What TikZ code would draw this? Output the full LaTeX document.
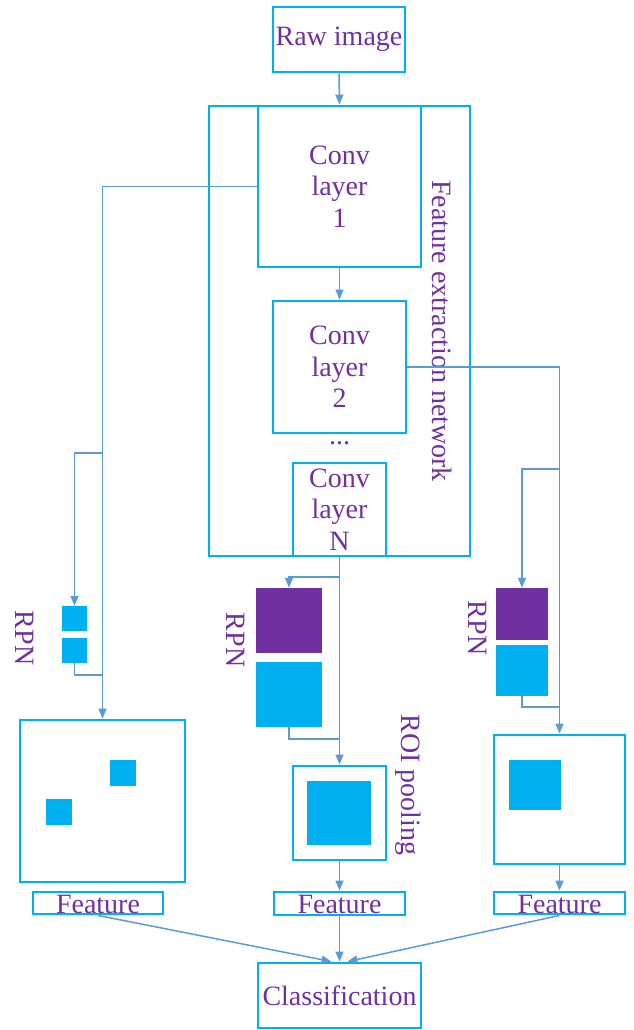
\documentclass[tikz,border=0pt]{standalone}
\usepackage{fontspec}
\setmainfont{Liberation Serif}
\usetikzlibrary{arrows.meta}
\definecolor{boxcyan}{HTML}{00B0F0}
\definecolor{txtpurple}{HTML}{7030A0}
\definecolor{linkblue}{HTML}{5B9BD5}
\tikzset{
  box/.style={draw=boxcyan, line width=2.9pt, rectangle, inner sep=0pt,
    text=txtpurple, align=center, font=\fontsize{28}{31.5}\selectfont},
  cyanblock/.style={fill=boxcyan, draw=none, rectangle, inner sep=0pt},
  purpleblock/.style={fill=txtpurple, draw=none, rectangle, inner sep=0pt},
  lbl/.style={text=txtpurple, inner sep=0pt, font=\fontsize{28}{31.5}\selectfont},
  vlbl/.style={lbl, rotate=-90},
  link/.style={draw=linkblue, line width=1.5pt},
  arrowlink/.style={link, -{Triangle[length=10pt,width=8pt]}},
}
\begin{document}
\begin{tikzpicture}[x=1pt, y=-1pt]
\useasboundingbox (0,0) rectangle (633,1030);

% feature extraction network
\node[box, minimum width=132pt, minimum height=65pt] (raw) at (339,39.5) {Raw image};
\node[box, minimum width=261pt, minimum height=450pt] (fen) at (339.5,331) {};
\node[box, minimum width=163pt, minimum height=161pt, fill=white] (conv1) at (339.5,186.5) {Conv\\layer\\1};
\node[box, minimum width=133pt, minimum height=132pt] (conv2) at (339.5,367) {Conv\\layer\\2};
\node[lbl] (dots) at (339.5,443) {...};
\node[box, minimum width=93pt, minimum height=93pt] (convN) at (339.5,509.5) {Conv\\layer\\N};
\node[vlbl] (fenlbl) at (442,331) {Feature extraction network};

% left branch
\node[cyanblock, minimum width=25pt, minimum height=25pt] (ls1) at (74.5,618.5) {};
\node[cyanblock, minimum width=25pt, minimum height=25pt] (ls2) at (74.5,650.5) {};
\node[vlbl] (lrpn) at (25,638) {RPN};
\node[box, minimum width=165pt, minimum height=162pt] (lbig) at (102.5,801) {};
\node[cyanblock, minimum width=26pt, minimum height=26pt] (lin1) at (123,773) {};
\node[cyanblock, minimum width=26pt, minimum height=26pt] (lin2) at (59,812) {};
\node[box, minimum width=130pt, minimum height=22pt] (lf) at (98,903) {};
\node[lbl] (lft) at (98,904) {Feature};

% middle branch
\node[purpleblock, minimum width=66pt, minimum height=65pt] (mp) at (289,620.5) {};
\node[cyanblock, minimum width=66pt, minimum height=65pt] (mc) at (289,694.5) {};
\node[vlbl] (mrpn) at (236,640) {RPN};
\node[box, minimum width=93pt, minimum height=94pt] (roi) at (339.5,813) {};
\node[cyanblock, minimum width=64pt, minimum height=64pt] (roiin) at (339,813) {};
\node[vlbl] (roilbl) at (408,785) {ROI pooling};
\node[box, minimum width=131pt, minimum height=23pt] (mf) at (339.5,903.5) {};
\node[lbl] (mft) at (339.5,904.5) {Feature};

% right branch
\node[purpleblock, minimum width=52pt, minimum height=52pt] (rp) at (522,614) {};
\node[cyanblock, minimum width=52pt, minimum height=51pt] (rc) at (522,670.5) {};
\node[vlbl] (rrpn) at (478,628) {RPN};
\node[box, minimum width=131pt, minimum height=129pt] (rbig) at (559.5,799.5) {};
\node[cyanblock, minimum width=52pt, minimum height=50pt] (rin) at (535,785) {};
\node[box, minimum width=131pt, minimum height=22pt] (rf) at (559.5,903) {};
\node[lbl] (rft) at (559.5,904) {Feature};

% output
\node[box, minimum width=163pt, minimum height=65pt] (cls) at (339.5,995.5) {Classification};

% junction points
\coordinate (lj1) at (102.5,453);
\coordinate (lj2) at (102.5,675);
\coordinate (mj1) at (339.5,577);
\coordinate (mj2) at (339.5,739);
\coordinate (rj1) at (559.5,469);
\coordinate (rj2) at (559.5,707);

% connectors
\draw[arrowlink] (raw.south) -- (fen.north);
\draw[arrowlink] (conv1.south) -- (conv2.north);

\draw[arrowlink] (conv1.west) -| (lbig.north);
\draw[arrowlink] (lj1) -| (ls1.north);
\draw[link] (ls2.south) |- (lj2);

\draw[arrowlink] (convN.south) -- (roi.north);
\draw[arrowlink] (mj1) -| (mp.north);
\draw[link] (mc.south) |- (mj2);
\draw[arrowlink] (roi.south) -- (mf.north);

\draw[arrowlink] (conv2.east) -| (rbig.north);
\draw[arrowlink] (rj1) -| (rp.north);
\draw[link] (rc.south) |- (rj2);
\draw[arrowlink] (rbig.south) -- (rf.north);

\draw[arrowlink] (lf.south) -- ([xshift=-8pt]cls.north);
\draw[arrowlink] (mf.south) -- (cls.north);
\draw[arrowlink] (rf.south) -- ([xshift=8pt]cls.north);
\end{tikzpicture}
\end{document}
